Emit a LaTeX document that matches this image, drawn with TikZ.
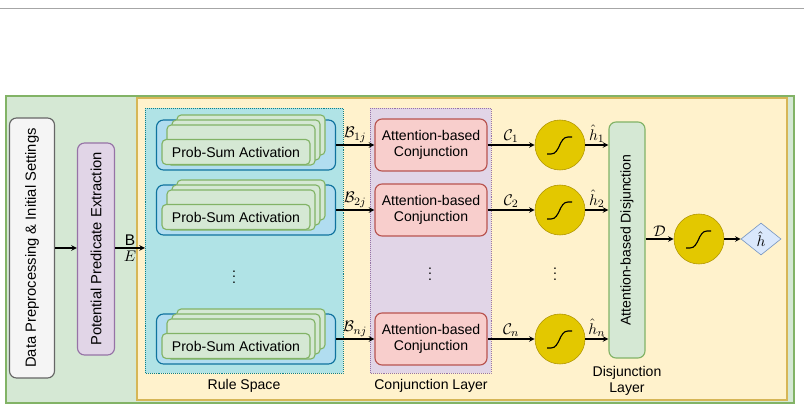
\documentclass[tikz,border=0pt]{standalone}
\usepackage{amsmath, amssymb}
\usepackage{xcolor}
\usepackage{fontspec}
\setmainfont{Liberation Sans}
\usetikzlibrary{shapes.geometric}

\definecolor{greenfill}{HTML}{D5E8D4}
\definecolor{greenline}{HTML}{82B366}
\definecolor{yellowfill}{HTML}{FFF2CC}
\definecolor{yellowline}{HTML}{D6B656}
\definecolor{purplefill}{HTML}{E1D5E7}
\definecolor{purpleline}{HTML}{9673A6}
\definecolor{tealfill}{HTML}{B0E3E6}
\definecolor{tealline}{HTML}{0E8088}
\definecolor{bluefill}{HTML}{B1DDF0}
\definecolor{blueline}{HTML}{10739E}
\definecolor{redfill}{HTML}{F8CECC}
\definecolor{redline}{HTML}{B85450}
\definecolor{goldfill}{HTML}{E3C800}
\definecolor{goldline}{HTML}{B09500}
\definecolor{diafill}{HTML}{DAE8FC}
\definecolor{dialine}{HTML}{6C8EBF}

\tikzset{
    box/.style={draw, rounded corners=5pt, thick, align=center},
    sigmoid/.style={circle, draw=goldline, fill=goldfill, minimum size=50*0.25mm, inner sep=0pt},
    arr/.style={->, >=stealth, thick},
    lbl/.style={font=\fontsize{11}{12}\selectfont, inner sep=1.5pt},
}

\newcommand{\sigcurve}[1]{%
    \draw[thick] ([shift={(-13,9)}]#1.center) -- ([shift={(-9,9)}]#1.center)
        .. controls ([shift={(0,9)}]#1.center) and ([shift={(-1,-8)}]#1.center) .. ([shift={(8,-8)}]#1.center)
        -- ([shift={(12,-8)}]#1.center);}

\begin{document}
\begin{tikzpicture}[x=0.25mm, y=-0.25mm, font=\fontsize{10}{11.5}\selectfont]
    \useasboundingbox (0,0) rectangle (804,410);

    % top rule
    \draw[gray!70] (0,8) -- (804,8);

    % frames
    \draw[thick, draw=greenline, fill=greenfill] (6,96) rectangle (794,403);
    \draw[thick, draw=yellowline, fill=yellowfill] (137,98) rectangle (787,400);

    % Input stages
    \node[box, draw=gray!80!black, fill=gray!8, minimum width=45*0.25mm, minimum height=260*0.25mm] (prep) at (32,248) {};
    \node[rotate=90, font=\fontsize{10.5}{12}\selectfont] at (prep) {Data Preprocessing \& Initial Settings};
    \node[box, draw=purpleline, fill=purplefill, minimum width=37*0.25mm, minimum height=212*0.25mm] (ppe) at (96,249) {};
    \node[rotate=90, font=\fontsize{10.5}{12}\selectfont] at (ppe) {Potential Predicate Extraction};

    % Rule Space
    \draw[densely dotted, draw=tealline, fill=tealfill] (145,108) rectangle (343,373);
    \node (rslabel) at (244,386) {Rule Space};
    \coordinate (rsin) at (145,248);

    \foreach \i/\y in {1/145, 2/210, n/339} {
        \node[box, draw=blueline, fill=bluefill, minimum width=179*0.25mm, minimum height=50*0.25mm] (rule\i) at (246,\y) {};
        \foreach \k in {3,2,1} {
            \draw[thick, draw=greenline, fill=greenfill, rounded corners=3pt]
                (162+5*\k,\y-20-5*\k+5) rectangle (310+5*\k,\y+20-5*\k+5);
        }
        \node[box, draw=greenline, fill=greenfill, rounded corners=3pt, minimum width=148*0.25mm, minimum height=25*0.25mm] at (236,\y+7) {Prob-Sum Activation};
    }
    \node at (234,273) {$\vdots$};

    % Conjunction Layer
    \draw[densely dotted, draw=purpleline, fill=purplefill] (370,108) rectangle (491,373);
    \node (cllabel) at (431,386) {Conjunction Layer};
    \foreach \i/\y in {1/145, 2/210, n/339} {
        \node[box, draw=redline, fill=redfill, minimum width=112*0.25mm, minimum height=52*0.25mm] (conj\i) at (431,\y) {Attention-based\\Conjunction};
        \node[sigmoid] (sig\i) at (560,\y) {};
        \sigcurve{sig\i}
        \draw[arr] (rule\i.east) -- node[above, lbl] {$\mathcal{B}_{\i j}$} (conj\i.west);
        \draw[arr] (conj\i.east) -- node[above, lbl] {$\mathcal{C}_{\i}$} (sig\i.west);
    }
    \node at (430,270) {$\vdots$};
    \node at (555,270) {$\vdots$};

    % Disjunction
    \node[box, draw=greenline, fill=greenfill, minimum width=36*0.25mm, minimum height=236*0.25mm] (disj) at (627,240) {};
    \node[rotate=90] at (disj) {Attention-based Disjunction};
    \node[align=center] (dllabel) at (627,381) {Disjunction\\Layer};
    \foreach \i in {1, 2, n} {
        \draw[arr] (sig\i.east) -- node[above, lbl] {$\hat{h}_{\i}$} (sig\i.east -| disj.west);
    }

    \node[sigmoid] (sigout) at (699,239) {};
    \sigcurve{sigout}
    \node[diamond, draw=dialine, fill=diafill, minimum width=40*0.25mm, minimum height=32*0.25mm, inner sep=0pt] (out) at (761,239) {};
    \node[lbl] at (out) {$\hat{h}$};

    % connectors
    \draw[arr] (prep.east) -- (prep.east -| ppe.west);
    \draw[arr] (ppe.east |- rsin) -- node[above, lbl] {B} node[below, lbl] {$E$} (rsin);
    \draw[arr] (disj.east |- sigout) -- node[above, lbl] {$\mathcal{D}$} (sigout.west);
    \draw[arr] (sigout.east) -- (out.west);

\end{tikzpicture}
\end{document}
